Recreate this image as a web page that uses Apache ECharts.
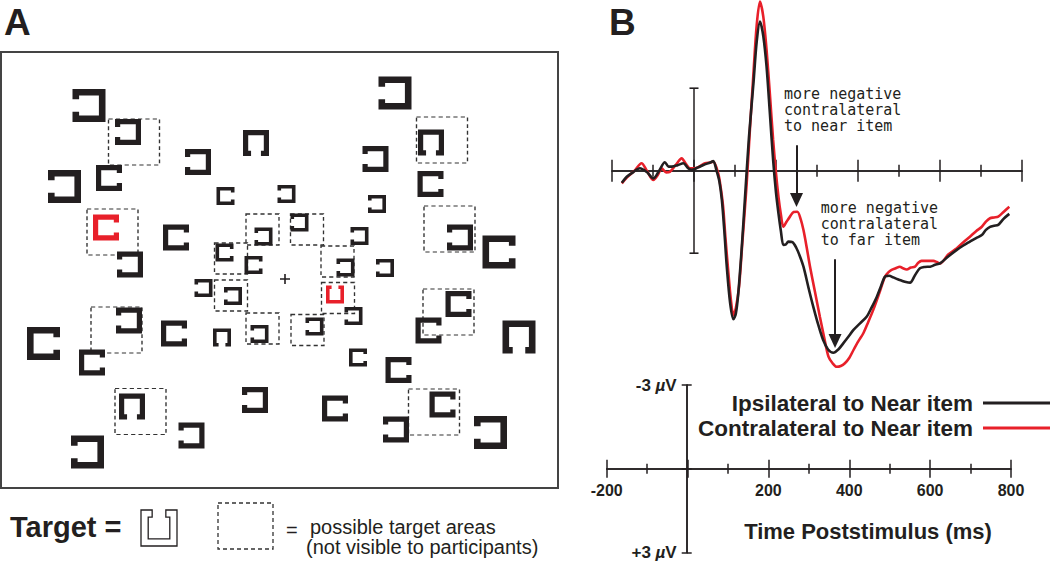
<!DOCTYPE html>
<html>
<head>
<meta charset="utf-8">
<script src="https://cdn.jsdelivr.net/npm/echarts@6/dist/echarts.min.js"></script>
<style>
html,body{margin:0;padding:0;background:#fff;}
#chart{width:1050px;height:564px;}
</style>
</head>
<body>
<div id="chart"></div>
<script>
// ---------------- DATA ----------------
// Panel A: search display. Items: [x, y, sizeClass, opening side] in display units (frame 557 x 436)
const blackItems = [
  [88,53.5,'l','left'], [127,80,'m','left'], [197,110,'m','left'], [255,91,'m','down'],
  [63.5,134.5,'l','left'], [108,126,'m','right'], [224.5,144,'s','right'], [285.5,142,'s','left'],
  [175,185.5,'m','right'], [129,212.5,'m','left'], [262.5,184.5,'s','left'], [223.5,200.5,'s','right'],
  [252.5,213,'s','right'], [394,41,'l','left'], [374.5,107,'m','left'], [430,90.5,'m','down'],
  [429.5,132,'m','right'], [376,152,'s','left'], [298.5,170.5,'s','left'], [459,185.5,'m','left'],
  [498,200,'l','right'], [358.5,184,'s','left'], [344.5,215.5,'s','left'], [384,216,'s','left'],
  [352.5,264,'s','left'], [313.5,274.5,'s','left'], [258.5,282,'s','left'], [457.5,252,'m','right'],
  [427.5,278.5,'m','right'], [518,285,'l','down'], [357,305.5,'s','right'], [397.5,318,'m','right'],
  [254,348,'m','left'], [334,356.5,'m','right'], [441.5,352.5,'m','right'], [395,377.5,'m','left'],
  [489.5,380.5,'l','left'], [202.5,236,'s','left'], [232,244,'s','left'], [128,268.5,'m','left'],
  [42.5,291.5,'l','right'], [91,310.5,'m','right'], [173,281.5,'m','right'], [221,285.5,'s','down'],
  [131,354.5,'m','down'], [190.5,383.5,'m','left'], [86.5,400,'l','left']
];
const redItems = [
  [105,175.5,'m','right'], [334,242.5,'s','up']
];
// possible target areas: [x, y, sizeClass]
const targetAreas = [
  [133,90,'l'], [111.5,180,'l'], [261.5,177.5,'s'], [306,177.5,'s'], [230,206.5,'s'],
  [336.5,209.5,'s'], [230,243.5,'s'], [337,246,'s'], [261.5,276.5,'s'], [306.5,278,'s'],
  [115.5,278,'l'], [139.5,359.5,'l'], [441,88,'l'], [448.5,177,'l'], [447.5,260,'l'], [433,360,'l']
];
const fixation = [[284,227]];

// Panel B: ERP waveforms, [time (ms), amplitude (µV, negative plotted up)]
const ipsiNear = [
  [-176,0.44],[-164,0.22],[-148,0.05],[-132,-0.09],[-115,0.05],[-99,0.28],[-85,0.0],[-71,-0.31],
  [-62,-0.15],[-54,-0.15],[-40,-0.2],[-26,-0.27],[-15,-0.1],[-6,-0.03],[10,-0.12],[23,-0.21],
  [40,-0.3],[47,-0.35],[55,0],[62,0.4],[68,1.07],[74,2.2],[80,3.5],[88,4.8],[96,5.4],[102,5.2],
  [108,4.46],[116,2.9],[124,1.07],[134,-1.2],[145,-3.18],[153,-4.7],[161,-5.42],[169,-4.9],
  [177,-3.78],[185,-2.1],[193,-0.39],[200,0.8],[206,1.55],[212,2.2],[218,2.7],[224,2.68],
  [230,2.58],[240,2.6],[250,2.82],[258,3.1],[267,3.49],[280,4.3],[291,4.95],[303,5.6],[315,6.16],
  [327,6.5],[340,6.62],[352,6.5],[364,6.28],[376,6.05],[389,5.79],[405,5.55],[421,5.31],
  [433,4.98],[446,4.58],[456,4.2],[466,3.85],[476,3.82],[486,3.88],[497,3.95],[507,4.0],
  [517,4.05],[527,4.07],[539,3.8],[551,3.55],[563,3.5],[576,3.49],[588,3.42],[600,3.37],
  [620,3.12],[641,2.88],[657,2.72],[673,2.58],[688,2.45],[702,2.34],[712,2.15],[722,2.04],
  [732,2.0],[742,1.97],[755,1.75],[769,1.57]
];
const contraNear = [
  [-176,0.46],[-164,0.25],[-145,0.0],[-128,-0.27],[-115,0.0],[-99,0.34],[-88,0.15],[-79,-0.09],
  [-68,0.06],[-59,0.04],[-45,-0.2],[-30,-0.45],[-20,-0.25],[-10,-0.09],[5,-0.1],[27,-0.27],
  [40,-0.3],[47,-0.33],[59,0.1],[65,0.6],[71,1.31],[77,2.5],[84,3.73],[90,4.7],[96,5.25],
  [102,5.0],[110,4.2],[118,2.6],[128,0.58],[136,-1.4],[145,-3.54],[153,-5.3],[161,-6.15],
  [169,-5.6],[177,-4.39],[185,-2.8],[193,-1.12],[200,0.1],[206,0.95],[212,1.6],[218,2.04],
  [226,1.85],[234,1.67],[243,1.5],[252,1.49],[260,1.75],[267,2.16],[275,2.8],[283,3.49],
  [295,4.4],[307,5.31],[318,6.1],[328,6.76],[338,7.0],[348,7.13],[358,7.1],[368,7.0],[379,6.8],
  [389,6.52],[401,6.2],[413,5.91],[425,5.5],[437,5.07],[452,4.45],[466,3.85],[474,3.7],
  [482,3.61],[492,3.55],[502,3.49],[510,3.55],[519,3.59],[529,3.52],[539,3.49],[547,3.35],
  [555,3.28],[570,3.28],[584,3.28],[592,3.32],[600,3.37],[620,3.05],[641,2.82],[657,2.6],
  [673,2.4],[688,2.2],[702,2.04],[712,1.85],[722,1.73],[732,1.7],[742,1.67],[755,1.5],[769,1.31]
];
const scaleBar = [[0,-3],[0,3]];
// arrows: [time, start µV, tip µV]
const arrows = [[250,-0.93,1.32],[344,3.22,6.45]];
const timeRange = [-200, 800];
const timeMajor = 200;
const ampRange = [-3, 3];
const seriesNames = ['Ipsilateral to Near item', 'Contralateral to Near item'];

// ---------------- STYLE ----------------
const INK = '#231f20', RED = '#e8202a';
const BOLD = '"Liberation Sans",Arial,sans-serif';
const SANS = '"Liberation Sans",Arial,sans-serif';
const MONO = '"DejaVu Sans Mono",monospace';
const PATH = {
  right: 'M0,0H100V31H80V20H20V80H80V69H100V100H0Z',
  left:  'M100,0H0V31H20V20H80V80H20V69H0V100H100Z',
  down:  'M0,0H100V100H69V80H80V20H20V80H31V100H0Z',
  up:    'M0,100H100V0H69V20H80V80H20V20H31V0H0Z'
};
const UP_POLY = [[0,100],[100,100],[100,0],[69,0],[69,20],[80,20],[80,80],[20,80],[20,20],[31,20],[31,0],[0,0]];
const ITEM_SIZE = {s:18, m:26, l:33};
const BOX_SIZE = {s:[33,31], l:[51,46]};
const CROSS = 'path://M42,0H58V100H42Z M0,42H100V58H0Z';

function itemData(list){
  return list.map(d => ({value:[d[0], d[1]], symbol:'path://' + PATH[d[3]], symbolSize: ITEM_SIZE[d[2]]}));
}

const chart = echarts.init(document.getElementById('chart'), null, {renderer:'svg', width:1050, height:564});

const lineSt = {color:INK, width:1.5};
const timeAxis = (grid, position, inside, len, minorLen, onZeroIdx, labels) => ({
  type:'value', gridIndex:grid, position:position, min:timeRange[0], max:timeRange[1], interval:timeMajor,
  axisLine: onZeroIdx == null ? {show:true, onZero:false, lineStyle:lineSt}
                              : {show:true, onZero:true, onZeroAxisIndex:onZeroIdx, lineStyle:lineSt},
  axisTick:{show:true, inside:inside, length:len, lineStyle:lineSt},
  minorTick:{show:true, splitNumber:2, length:minorLen, lineStyle:lineSt},
  splitLine:{show:false}, minorSplitLine:{show:false},
  axisLabel: labels ? {show:true, margin:14, color:INK, fontFamily:BOLD, fontWeight:'bold', fontSize:16,
    formatter: v => v === 0 ? '' : String(v)} : {show:false}
});
const ampAxis = (inside, labels) => ({
  type:'value', gridIndex:3, position:'left', min:ampRange[0], max:ampRange[1], interval:3, inverse:true,
  axisLine:{show:true, onZero:false, lineStyle:lineSt},
  axisTick:{show:true, inside:inside, length:5, lineStyle:lineSt},
  splitLine:{show:false},
  axisLabel: labels ? {show:true, margin:10, color:INK,
    formatter: v => v === ampRange[0] ? '{n|' + v + ' }{u|µ}{n|V}' : v === ampRange[1] ? '{n|+' + v + ' }{u|µ}{n|V}' : '',
    rich:{n:{fontFamily:BOLD, fontWeight:'bold', fontSize:17, color:INK},
          u:{fontFamily:SANS, fontStyle:'italic', fontWeight:'bold', fontSize:17, color:INK}}} : {show:false}
});

const iconX = 141, iconY = 510, iconS = 36;

const option = {
  animation:false,
  backgroundColor:'#fff',
  grid:[
    {left:1, top:52, width:557, height:436, show:true, borderColor:'#444', borderWidth:2, backgroundColor:'rgba(0,0,0,0)', outerBoundsMode:'none', containLabel:false},
    {left:612, top:0.2, width:410, height:374, outerBoundsMode:'none', containLabel:false},
    {left:606.7, top:385, width:404.3, height:83.85, outerBoundsMode:'none', containLabel:false},
    {left:686.7, top:385, width:324.3, height:167.7, outerBoundsMode:'none', containLabel:false}
  ],
  xAxis:[
    {type:'value', gridIndex:0, min:0, max:557, show:false},
    timeAxis(1, 'bottom', false, 11, 6, 1, false),
    timeAxis(1, 'bottom', true, 11, 6, 1, false),
    timeAxis(2, 'bottom', false, 9, 5, null, true),
    timeAxis(2, 'bottom', true, 9, 5, null, false),
    {type:'value', gridIndex:3, min:0, max:timeRange[1], show:false}
  ],
  yAxis:[
    {type:'value', gridIndex:0, min:0, max:436, inverse:true, show:false},
    {type:'value', gridIndex:1, min:-6.2, max:7.4, inverse:true, show:false},
    {type:'value', gridIndex:2, min:ampRange[0], max:0, inverse:true, show:false},
    ampAxis(false, true),
    ampAxis(true, false)
  ],
  legend:{
    data:seriesNames, orient:'vertical', right:0, top:391, align:'right', padding:0,
    itemWidth:67, itemHeight:3, itemGap:1, icon:'rect', selectedMode:false,
    textStyle:{fontFamily:BOLD, fontWeight:'bold', fontSize:22.5, color:INK, lineHeight:24, padding:[0,5,0,0]}
  },
  series:[
    {type:'scatter', xAxisIndex:0, yAxisIndex:0, silent:true, symbol:'rect', z:2,
      data: targetAreas.map(d => ({value:[d[0], d[1]], symbolSize: BOX_SIZE[d[2]]})),
      itemStyle:{color:'rgba(0,0,0,0)', borderColor:'#333', borderWidth:1.3, borderType:[4,3], opacity:1}},
    {type:'scatter', xAxisIndex:0, yAxisIndex:0, silent:true, z:3,
      data:itemData(blackItems), itemStyle:{color:INK, opacity:1}},
    {type:'scatter', xAxisIndex:0, yAxisIndex:0, silent:true, z:3,
      data:itemData(redItems), itemStyle:{color:RED, opacity:1}},
    {type:'scatter', xAxisIndex:0, yAxisIndex:0, silent:true, z:3, symbol:CROSS, symbolSize:10,
      data:fixation, itemStyle:{color:INK, opacity:1}},
    {type:'line', xAxisIndex:1, yAxisIndex:1, silent:true, z:3, data:scaleBar,
      symbol:'rect', symbolSize:[9,1.6], showSymbol:true, itemStyle:{color:INK},
      lineStyle:{color:INK, width:1.5}},
    {type:'line', name:seriesNames[1], xAxisIndex:1, yAxisIndex:1, silent:true, z:4, data:contraNear,
      showSymbol:false, smooth:0.3, itemStyle:{color:RED}, lineStyle:{color:RED, width:2.6}},
    {type:'line', name:seriesNames[0], xAxisIndex:1, yAxisIndex:1, silent:true, z:5, data:ipsiNear,
      showSymbol:false, smooth:0.3, itemStyle:{color:INK}, lineStyle:{color:INK, width:2.6},
      markLine:{silent:true, symbol:['none','triangle'], symbolSize:[13,14], animation:false,
        lineStyle:{color:INK, width:2, type:'solid'}, label:{show:false},
        data: arrows.map(a => [{coord:[a[0], a[1]]}, {coord:[a[0], a[2] - 7/27.5]}])}},
    {type:'line', xAxisIndex:3, yAxisIndex:2, data:[], silent:true},
    {type:'line', xAxisIndex:5, yAxisIndex:3, data:[], silent:true}
  ],
  graphic:[
    {type:'text', x:4, y:22, style:{text:'A', fontFamily:SANS, fontWeight:'bold', fontSize:37, fill:INK, verticalAlign:'middle'}},
    {type:'text', x:609, y:22, style:{text:'B', fontFamily:SANS, fontWeight:'bold', fontSize:37, fill:INK, verticalAlign:'middle'}},
    {type:'text', x:10, y:526.5, style:{text:'Target =', fontFamily:SANS, fontWeight:'bold', fontSize:29, fill:INK, verticalAlign:'middle'}},
    {type:'polygon', shape:{points: UP_POLY.map(p => [iconX + p[0]*iconS/100, iconY + p[1]*iconS/100])}, style:{fill:'#fff', stroke:INK, lineWidth:1.3}},
    {type:'rect', shape:{x:218, y:503, width:55, height:46}, style:{fill:'none', stroke:'#333', lineWidth:1.3, lineDash:[4,3]}},
    {type:'text', x:286, y:530, style:{text:'=', fontFamily:SANS, fontSize:20, fill:INK, verticalAlign:'middle'}},
    {type:'text', x:310, y:527, style:{text:'possible target areas', fontFamily:SANS, fontSize:20, fill:INK, verticalAlign:'middle'}},
    {type:'text', x:306, y:547, style:{text:'(not visible to participants)', fontFamily:SANS, fontSize:20, fill:INK, verticalAlign:'middle'}},
    {type:'text', x:784, y:110, style:{text:'more negative\ncontralateral\nto near item', fontFamily:MONO, fontSize:15, lineHeight:16, fill:INK, verticalAlign:'middle'}},
    {type:'text', x:820.7, y:224, style:{text:'more negative\ncontralateral\nto far item', fontFamily:MONO, fontSize:15, lineHeight:16, fill:INK, verticalAlign:'middle'}},
    {type:'text', x:868, y:531, style:{text:'Time Poststimulus (ms)', fontFamily:BOLD, fontWeight:'bold', fontSize:22, fill:INK, align:'center', verticalAlign:'middle'}}
  ]
};
chart.setOption(option);
</script>
</body>
</html>
